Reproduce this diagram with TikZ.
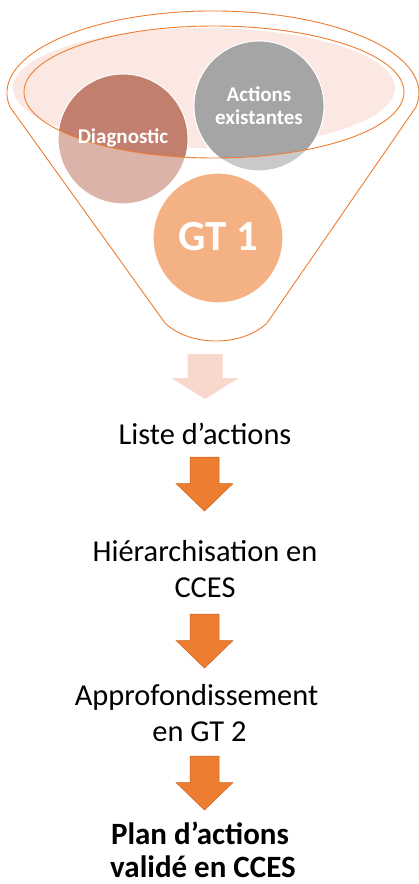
\documentclass[tikz,border=0pt]{standalone}
\usepackage{fontspec}
\setmainfont{Carlito}
\definecolor{funnelor}{HTML}{ED7D31}
\definecolor{pinkfill}{HTML}{FBE8E2}
\definecolor{diagD}{HTML}{C27F6E}
\definecolor{diagL}{HTML}{DBB3A8}
\definecolor{grayD}{HTML}{A5A5A5}
\definecolor{grayL}{HTML}{C9C9C9}
\definecolor{gtfill}{HTML}{F4B183}
\definecolor{palearrow}{HTML}{F8D8CC}
\definecolor{arrowfill}{HTML}{ED7D31}
\definecolor{arrowedge}{HTML}{C9621C}
\tikzset{
  bubble/.style={circle, minimum size=130pt, inner sep=0pt, draw=white, line width=1.2pt},
  bubtext/.style={inner sep=0pt, text=white, align=center, font=\bfseries\fontsize{21}{23}\selectfont},
  steptext/.style={inner sep=0pt, anchor=base, font=\fontsize{30.4}{36}\selectfont},
  finaltext/.style={inner sep=0pt, anchor=base, font=\bfseries\fontsize{31}{36}\selectfont},
  funnelline/.style={draw=funnelor, line width=0.9pt},
  downarrow/.pic={
    \filldraw[fill=arrowfill, draw=arrowedge, line width=0.5pt]
      (-14.5,0) -- (14.5,0) -- (14.5,26.5) -- (28.5,26.5) -- (0,54) -- (-28.5,26.5) -- (-14.5,26.5) -- cycle;
  },
  palepic/.pic={
    \fill[palearrow]
      (-17.5,0) -- (17.5,0) -- (17.5,24) -- (33.5,24) -- (0,45) -- (-33.5,24) -- (-17.5,24) -- cycle;
  }
}
\begin{document}
\begin{tikzpicture}[x=1pt,y=-1pt]
\useasboundingbox (0,0) rectangle (418,884);
% funnel body
\draw[funnelline] (10.1,107.2) arc[start angle=170, end angle=370, x radius=206, y radius=82]
  -- (267,323) .. controls (242,347) and (190,347) .. (165,323) -- cycle;
% pink rim fill
\fill[pinkfill] (204,88) ellipse[x radius=191, y radius=60];
% bubbles
\node[bubble, fill=diagL] (diag) at (123,139) {};
\node[bubble, fill=grayL] (act) at (259,106) {};
\begin{scope}
  \clip (214,92) ellipse[x radius=190, y radius=66];
  \fill[diagD] (diag.center) circle[radius=64.4];
  \fill[grayD] (act.center) circle[radius=64.4];
\end{scope}
\node[bubble, fill=gtfill] (gt) at (218,238) {};
% inner rim
\draw[funnelline] (214,92) ellipse[x radius=190, y radius=66];
% bubble texts
\node[bubtext, anchor=base] (diagt) at (123,143) {Diagnostic};
\node[bubtext] (actt) at (259,106) {Actions\\existantes};
\node[inner sep=0pt, anchor=base, text=white, font=\bfseries\fontsize{43}{48}\selectfont] (gtt) at (218,250) {GT 1};
% arrows
\pic at (205,354) {palepic};
\node[steptext] (liste) at (205,444) {Liste d’actions};
\pic at (204.5,457) {downarrow};
\node[steptext] (hier1) at (205,561) {Hiérarchisation en};
\node[steptext] (hier2) at (205,597) {CCES};
\pic at (204.5,614) {downarrow};
\node[steptext] (appro1) at (196.5,705) {Approfondissement};
\node[steptext] (appro2) at (199.5,741) {en GT 2};
\pic at (204.5,756) {downarrow};
\node[finaltext] (plan1) at (200,844) {Plan d’actions};
\node[finaltext] (plan2) at (203,877.5) {validé en CCES};
\end{tikzpicture}
\end{document}
